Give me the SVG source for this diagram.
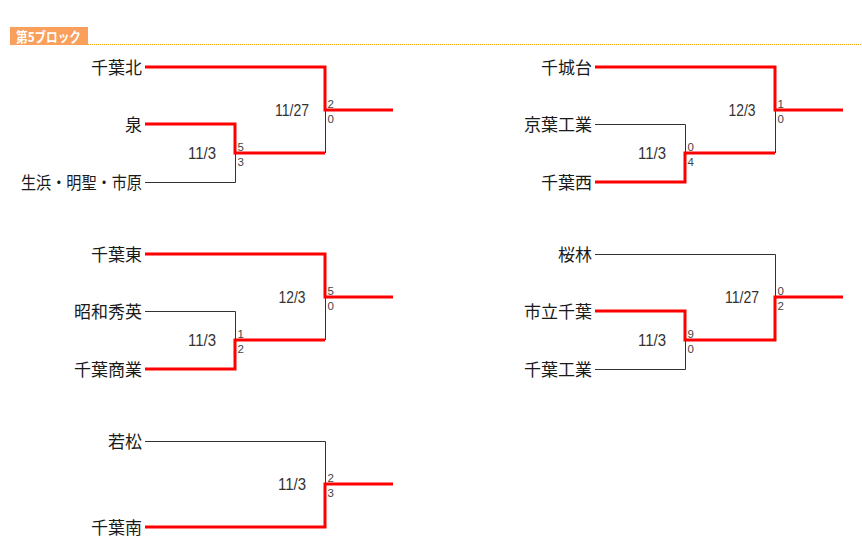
<svg xmlns="http://www.w3.org/2000/svg" width="862" height="558" viewBox="0 0 862 558">
<style>
.name{font-family:"Noto Sans CJK JP","Liberation Sans",sans-serif;font-size:17px;fill:#1a1a1a;text-anchor:end}
.date{font-family:"Liberation Sans","DejaVu Sans",sans-serif;font-size:16px;fill:#333;text-anchor:middle}
.score{font-family:"Liberation Sans","DejaVu Sans",sans-serif;font-size:11.5px;fill:#444}
.win{fill:none;stroke:#ff0000;stroke-width:3;stroke-linejoin:miter}
.lose{fill:none;stroke:#333;stroke-width:1}
</style>
<rect width="862" height="558" fill="#ffffff"/>
<g id="header">
<rect x="10" y="27" width="78" height="18" fill="#fa9f5c"/>
<text x="16" y="41.5" font-family="Noto Sans CJK JP,Liberation Sans,sans-serif" font-size="13.5" font-weight="bold" fill="#ffffff" textLength="65" lengthAdjust="spacingAndGlyphs">第5ブロック</text>
<line x1="88" y1="44.5" x2="862" y2="44.5" stroke="#f0a000" stroke-width="1" stroke-dasharray="1 1"/>
</g>
<g id="connectors">
<path class="lose" d="M145 182.5 H235.5 V153 M325.5 153 V110"/>
<path class="lose" d="M595 124.5 H685.5 V153 M775.5 153 V110"/>
<path class="lose" d="M145 311.5 H235.5 V340 M325.5 340 V297"/>
<path class="lose" d="M595 254.5 H775.5 V297 M595 369.5 H685.5 V340"/>
<path class="lose" d="M145 441.5 H325.5 V484"/>
<path class="win" d="M145 67 H325 V110 H393 M145 124 H235 V153 H325"/>
<path class="win" d="M595 67 H775 V110 H843 M595 182 H685 V153 H775"/>
<path class="win" d="M145 254 H325 V297 H393 M145 369 H235 V340 H325"/>
<path class="win" d="M595 311 H685 V340 H775 V297 H843"/>
<path class="win" d="M145 527 H325 V484 H393"/>
</g>
<g id="team-chibakita"><text class="name" x="142" y="74">千葉北</text></g>
<g id="team-izumi"><text class="name" x="142" y="131">泉</text></g>
<g id="team-oihama"><text class="name" x="142" y="189" textLength="121" lengthAdjust="spacingAndGlyphs">生浜・明聖・市原</text></g>
<g id="team-chishirodai"><text class="name" x="592" y="74">千城台</text></g>
<g id="team-keiyokogyo"><text class="name" x="592" y="131">京葉工業</text></g>
<g id="team-chibanishi"><text class="name" x="592" y="189">千葉西</text></g>
<g id="team-chibahigashi"><text class="name" x="142" y="261">千葉東</text></g>
<g id="team-showashuei"><text class="name" x="142" y="318">昭和秀英</text></g>
<g id="team-chibashogyo"><text class="name" x="142" y="376">千葉商業</text></g>
<g id="team-ohbayashi"><text class="name" x="592" y="261">桜林</text></g>
<g id="team-ichiritsuchiba"><text class="name" x="592" y="318">市立千葉</text></g>
<g id="team-chibakogyo"><text class="name" x="592" y="376">千葉工業</text></g>
<g id="team-wakamatsu"><text class="name" x="142" y="448">若松</text></g>
<g id="team-chibaminami"><text class="name" x="142" y="534">千葉南</text></g>
<g id="match-info">
<text class="date" x="292" y="116" textLength="34" lengthAdjust="spacingAndGlyphs">11/27</text>
<text class="date" x="202" y="159" textLength="28" lengthAdjust="spacingAndGlyphs">11/3</text>
<text class="date" x="742" y="116" textLength="27" lengthAdjust="spacingAndGlyphs">12/3</text>
<text class="date" x="652" y="159" textLength="28" lengthAdjust="spacingAndGlyphs">11/3</text>
<text class="date" x="292" y="303" textLength="27" lengthAdjust="spacingAndGlyphs">12/3</text>
<text class="date" x="202" y="346" textLength="28" lengthAdjust="spacingAndGlyphs">11/3</text>
<text class="date" x="742" y="303" textLength="34" lengthAdjust="spacingAndGlyphs">11/27</text>
<text class="date" x="652" y="346" textLength="28" lengthAdjust="spacingAndGlyphs">11/3</text>
<text class="date" x="292" y="490" textLength="28" lengthAdjust="spacingAndGlyphs">11/3</text>
<text class="score" x="327.5" y="108">2</text><text class="score" x="327.5" y="122.5">0</text>
<text class="score" x="237.5" y="151">5</text><text class="score" x="237.5" y="165.5">3</text>
<text class="score" x="777.5" y="108">1</text><text class="score" x="777.5" y="122.5">0</text>
<text class="score" x="687.5" y="151">0</text><text class="score" x="687.5" y="165.5">4</text>
<text class="score" x="327.5" y="295">5</text><text class="score" x="327.5" y="309.5">0</text>
<text class="score" x="237.5" y="338">1</text><text class="score" x="237.5" y="352.5">2</text>
<text class="score" x="777.5" y="295">0</text><text class="score" x="777.5" y="309.5">2</text>
<text class="score" x="687.5" y="338">9</text><text class="score" x="687.5" y="352.5">0</text>
<text class="score" x="327.5" y="482">2</text><text class="score" x="327.5" y="496.5">3</text>
</g>
</svg>
